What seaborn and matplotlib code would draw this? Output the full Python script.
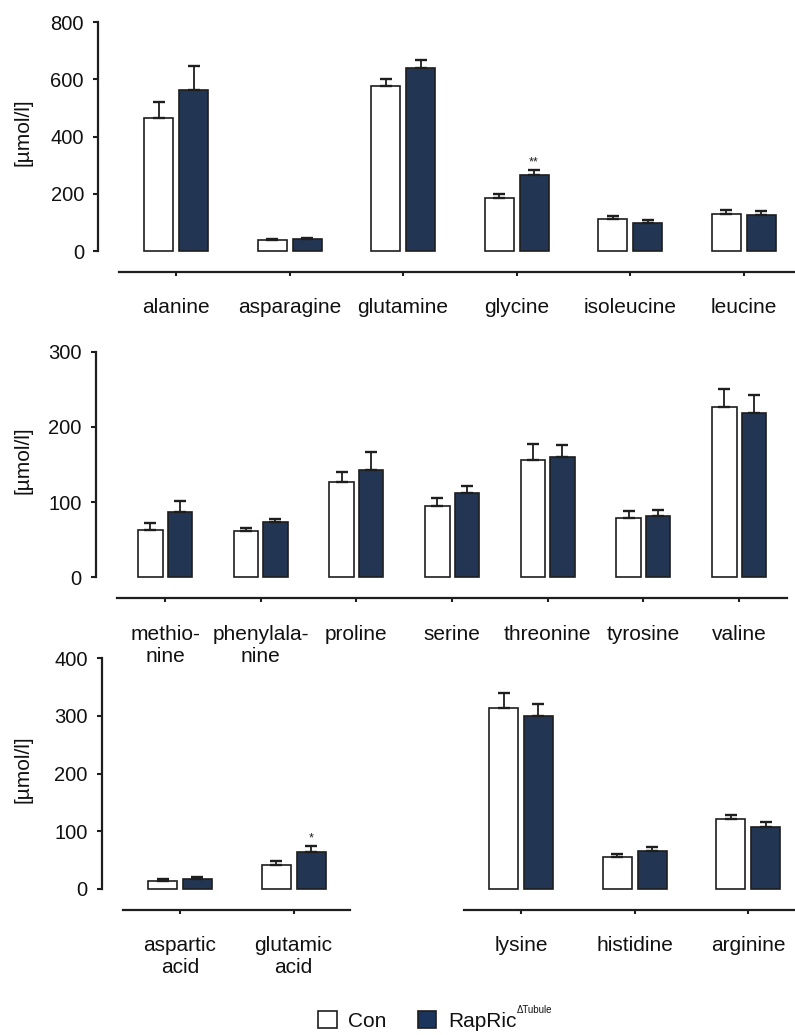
import numpy as np
import pandas as pd
import matplotlib
matplotlib.use('Agg')
import matplotlib.pyplot as plt
import matplotlib.transforms as mtransforms
from matplotlib.patches import Patch
import seaborn as sns

# Plasma-Aminosäuren: Con vs RapRic (Mittelwert + SEM, µmol/l)
groups = ['Con', 'RapRic']

aa1 = ['alanine', 'asparagine', 'glutamine', 'glycine', 'isoleucine', 'leucine']
con_mean1 = [463, 38, 576, 185, 113, 128]
con_err1 = [57, 5, 26, 13, 10, 16]
rap_mean1 = [562, 41, 640, 267, 99, 125]
rap_err1 = [85, 5, 27, 17, 9, 16]
sig1 = ['', '', '', '**', '', '']

aa2 = ['methio-\nnine', 'phenylala-\nnine', 'proline', 'serine', 'threonine', 'tyrosine', 'valine']
con_mean2 = [63, 62, 127, 95, 156, 79, 227]
con_err2 = [9, 4, 13, 11, 21, 9, 23]
rap_mean2 = [87, 73, 143, 112, 160, 82, 219]
rap_err2 = [15, 5, 23, 10, 16, 8, 23]
sig2 = ['', '', '', '', '', '', '']

aa3a = ['aspartic\nacid', 'glutamic\nacid']
con_mean3a = [14.5, 42]
con_err3a = [2, 6]
rap_mean3a = [17, 65]
rap_err3a = [4, 9]
sig3a = ['', '*']

aa3b = ['lysine', 'histidine', 'arginine']
con_mean3b = [313, 56, 121]
con_err3b = [26, 5, 7]
rap_mean3b = [300, 66, 108]
rap_err3b = [20, 6, 9]
sig3b = ['', '', '']

yticks1 = [0, 200, 400, 600, 800]
yticks2 = [0, 100, 200, 300]
yticks3 = [0, 100, 200, 300, 400]

navy = '#1a345c'
ink = '#1e1e1e'
txt = '#111111'
palette = {'Con': 'white', 'RapRic': navy}

sns.set_style('ticks')
plt.rcParams['font.family'] = ['Liberation Sans', 'DejaVu Sans']
plt.rcParams['font.size'] = 14

W, H = 795, 1035
fig = plt.figure(figsize=(W / 100, H / 100), dpi=100)


def make_ax(left_px, bottom_px, width_px, height_px):
    return fig.add_axes([left_px / W, 1 - bottom_px / H, width_px / W, height_px / H])


def draw_panel(ax, names, con_mean, con_err, rap_mean, rap_err, sig, yticks, show_y=True):
    df = pd.DataFrame({
        'amino': names * 2,
        'group': ['Con'] * len(names) + ['RapRic'] * len(names),
        'value': list(con_mean) + list(rap_mean),
    })
    sns.barplot(data=df, x='amino', y='value', hue='group', order=names, hue_order=groups,
                palette=palette, edgecolor=ink, linewidth=1.2, width=0.616, gap=0.17,
                errorbar=None, legend=False, ax=ax)
    errs = [con_err, rap_err]
    for cont, err in zip(ax.containers, errs):
        xs = [b.get_x() + b.get_width() / 2 for b in cont]
        ys = [b.get_height() for b in cont]
        for b in cont:
            b.set_clip_on(False)
        ax.errorbar(xs, ys, yerr=[np.zeros(len(err)), err], fmt='none', ecolor=ink,
                    elinewidth=1.3, capsize=4.5, capthick=1.7, clip_on=False, zorder=1)
    # Signifikanz über der RapRic-Säule
    rap_cont = ax.containers[1]
    for b, s, e in zip(rap_cont, sig, rap_err):
        if s:
            ax.annotate(s, (b.get_x() + b.get_width() / 2, b.get_height() + e),
                        xytext=(0, 1), textcoords='offset points',
                        ha='center', va='bottom', fontsize=9, color=ink)
    ax.set_xlim(-0.5, len(names) - 0.5)
    ax.set_ylim(0, yticks[-1])
    ax.set_xlabel('')
    ax.set_ylabel('')
    sns.despine(ax=ax, offset=15, left=not show_y)
    ax.spines['bottom'].set_linewidth(1.6)
    ax.spines['bottom'].set_color(ink)
    ax.tick_params(axis='x', length=3, width=1.5, color=ink, pad=16, labelsize=15,
                   labelcolor=txt)
    if show_y:
        ax.set_yticks(yticks)
        ax.spines['left'].set_bounds(0, yticks[-1])
        ax.spines['left'].set_linewidth(1.6)
        ax.spines['left'].set_color(ink)
        ax.tick_params(axis='y', length=3.5, width=1.5, color=ink, pad=7, labelsize=14.5,
                       labelcolor=txt)
        ax.set_ylabel('[µmol/l]', fontsize=15, color=txt)
        trans = mtransforms.blended_transform_factory(fig.transFigure, ax.transAxes)
        ax.yaxis.set_label_coords(33 / W, 0.52, transform=trans)
    else:
        ax.set_yticks([])
        ax.tick_params(axis='y', length=0)
    ax.patch.set_alpha(0)


ax1 = make_ax(119.3, 251, 681, 229)
draw_panel(ax1, aa1, con_mean1, con_err1, rap_mean1, rap_err1, sig1, yticks1)

ax2 = make_ax(117.2, 577.3, 669.7, 225.6)
draw_panel(ax2, aa2, con_mean2, con_err2, rap_mean2, rap_err2, sig2, yticks2)

ax3a = make_ax(123.2, 889, 227.2, 230.7)
draw_panel(ax3a, aa3a, con_mean3a, con_err3a, rap_mean3a, rap_err3a, sig3a, yticks3)

ax3b = make_ax(464.2, 889, 340.8, 230.7)
draw_panel(ax3b, aa3b, con_mean3b, con_err3b, rap_mean3b, rap_err3b, sig3b, yticks3, show_y=False)

handles = [Patch(facecolor=palette[g], edgecolor=ink, linewidth=1.2) for g in groups]
leg = fig.legend(handles, groups, loc='center', bbox_to_anchor=(417 / W, 1 - 1021 / H),
                 ncol=2, frameon=False, fontsize=15, handlelength=0.9, handleheight=0.9,
                 handletextpad=0.55, columnspacing=1.5)
for t in leg.get_texts():
    t.set_color(txt)

# kleines hochgestelltes ΔTubule hinter "RapRic"
fig.canvas.draw()
bb = leg.get_texts()[1].get_window_extent(fig.canvas.get_renderer())
fig.text((bb.x1 + 1) / W, (bb.y1 - 3) / H, 'ΔTubule', fontsize=7, color=txt,
         ha='left', va='bottom')

fig.savefig('out.png', dpi=100)
